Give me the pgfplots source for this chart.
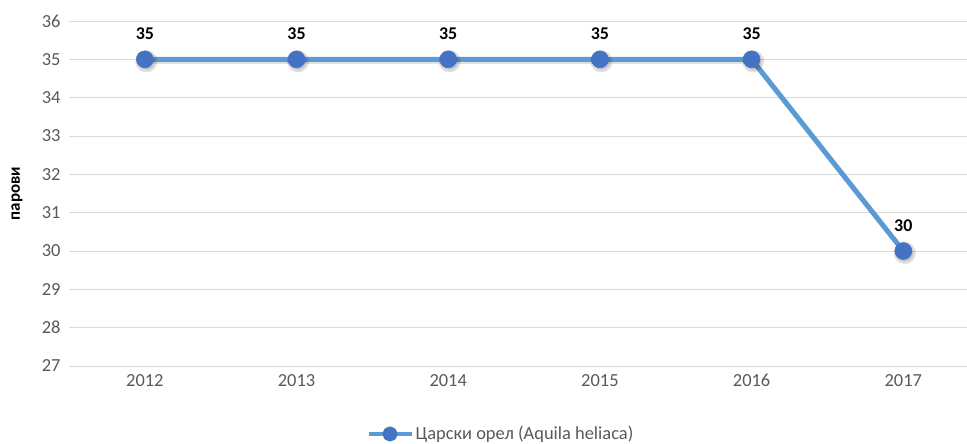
\documentclass[border=0pt]{standalone}
\usepackage{pgfplots}
\pgfplotsset{compat=1.18}
\usepackage{fontspec}
\setmainfont{Carlito}
\definecolor{linec}{HTML}{5B9BD5}
\definecolor{markc}{HTML}{4472C4}
\definecolor{gridc}{HTML}{D9D9D9}
\definecolor{txt}{HTML}{595959}
\begin{document}
\begin{tikzpicture}
\path[use as bounding box] (0,0) rectangle (967bp,444bp);
\begin{axis}[
  at={(69bp,78bp)}, anchor=south west,
  scale only axis, width=898bp, height=345bp,
  xmin=-0.5, xmax=5.42, ymin=27, ymax=36,
  xtick={0,1,2,3,4,5}, xticklabels={2012,2013,2014,2015,2016,2017},
  ytick={27,28,...,36},
  ymajorgrids, major grid style={gridc, line width=1pt},
  axis x line*=bottom, axis y line*=left,
  x axis line style={gridc, line width=1pt, -},
  y axis line style={draw=none},
  tick style={draw=none},
  /pgf/number format/assume math mode=true,
  ticklabel style={font=\fontsize{18.5}{21}\selectfont, text=txt},
  yticklabel style={xshift=-5bp},
  xticklabel style={yshift=-5bp},
  ylabel={парови},
  ylabel style={font=\bfseries\fontsize{17}{19}\selectfont, text=black, at={(-52bp,172.5bp)}, anchor=center},
  legend style={at={(0.481,-0.197)}, anchor=center, draw=none, fill=none, font=\fontsize{18.5}{21}\selectfont, text=txt, inner sep=0pt, /tikz/every even column/.append style={column sep=0pt}},
  legend image code/.code={\draw[linec, line width=4pt] (-2bp,0bp) -- (41bp,0bp); \fill[markc] (19.5bp,0bp) circle (5bp);},
  nodes near coords,
  nodes near coords style={font=\bfseries\fontsize{18}{20}\selectfont, text=black, yshift=16bp},
  clip=false,
]
\addplot[black, opacity=0.12, line width=5pt, line join=round, mark=*, mark size=8.5bp, mark options={fill=black, draw=none}, shift={(1.5bp,-2bp)}, forget plot, nodes near coords={}]
  coordinates {(0,35)(1,35)(2,35)(3,35)(4,35)(5,30)};
\addplot[linec, line width=5pt, line join=round, mark=*, mark size=8.5bp, mark options={fill=markc, draw=markc, line width=0.5pt}]
  coordinates {(0,35)(1,35)(2,35)(3,35)(4,35)(5,30)};
\addlegendentry{Царски орел (Aquila heliaca)}
\end{axis}
\end{tikzpicture}
\end{document}
